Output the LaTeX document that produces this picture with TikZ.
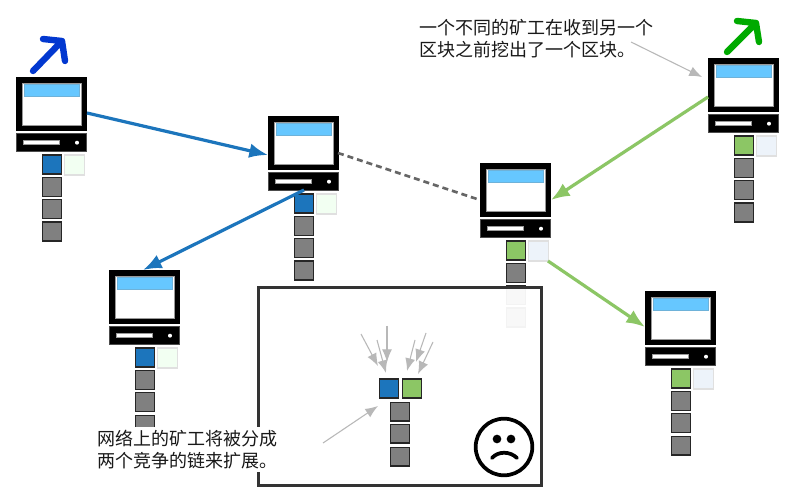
\documentclass[tikz,border=0pt]{standalone}
\usepackage{fontspec}
\setmainfont{Noto Sans CJK SC}
\usetikzlibrary{arrows.meta,calc}
\definecolor{chainblue}{HTML}{1C75BC}
\definecolor{chaingreen}{HTML}{8CC665}
\definecolor{screenblue}{HTML}{66C7FF}
\definecolor{pickblue}{HTML}{0238D0}
\definecolor{pickgreen}{HTML}{00AA00}
\definecolor{blockgrey}{HTML}{808080}
\definecolor{noteline}{HTML}{B8B8B8}
\tikzset{
  monitor/.style={draw=black,fill=black,line width=0pt,minimum width=52.6pt,minimum height=40pt,inner sep=0pt,outer sep=0pt,anchor=north west},
  base/.style={fill=black,draw=black!70,line width=.3pt,minimum width=52.6pt,minimum height=13.5pt,inner sep=0pt,anchor=north west},
  screen/.style={fill=white,draw=black!40,line width=.4pt,minimum width=44.5pt,minimum height=31pt,inner sep=0pt,anchor=north west},
  bar/.style={fill=screenblue,draw=screenblue!70!gray,line width=.3pt,minimum width=41.5pt,minimum height=9pt,inner sep=0pt,anchor=north west},
  slot/.style={fill=white,draw=black!40,line width=.3pt,minimum width=27pt,minimum height=3pt,inner sep=0pt,anchor=west},
  lamp/.style={circle,fill=white,minimum size=3pt,inner sep=0pt},
  blockbox/.style={draw=black!85,line width=1.1pt,minimum size=14.2pt,inner sep=0pt,anchor=north west},
  ghost/.style={draw=black!12,line width=.8pt,minimum size=15pt,inner sep=0pt,anchor=north west},
  link/.style={line width=2.4pt,-{Latex[length=14pt,width=11pt]}},
  note/.style={draw=noteline,line width=.8pt,-{Latex[length=9.5pt,width=7.5pt]}},
  pick/.style={line width=4.8pt,line cap=round,line join=round},
  label/.style={align=left,font=\fontsize{13.5pt}{17pt}\selectfont,inner sep=2pt,anchor=north west,text=black!90}
}
\newcommand{\computer}[6]{% name, x, y, main colour, ghost colour
  \node[monitor] (#1) at ($(#2,#3)+(0,0.6)$) {};
  \node[screen] (#1s) at ($(#2,#3)+(5.5,6.2)$) {};
  \node[bar] (#1b) at ($(#2,#3)+(8,7)$) {};
  \node[base] (#1f) at ($(#2,#3)+(0,56.5)$) {};
  \node[slot] (#1w) at ($(#1f.west)+(7,0)$) {};
  \node[lamp] (#1l) at ($(#1f.west)+(61,0)$) {};
  \node[blockbox,fill=#4] (#1n) at ($(#2,#3)+(25.7,77.5)$) {};
  \node[ghost,fill=#5] (#1g) at ($(#2,#3)+(47.5,77.5)$) {};
  \node[blockbox,fill=blockgrey] (#1p) at ($(#2,#3)+(25.7,99.7)$) {};
  \node[blockbox,fill=blockgrey] (#1q) at ($(#2,#3)+(25.7,122)$) {};
  \node[blockbox,fill=blockgrey] (#1r) at ($(#2,#3)+(25.7,144.5)$) {};
}
\begin{document}
\begin{tikzpicture}[x=0.75pt,y=-0.75pt]
\useasboundingbox[fill=white] (0,0) rectangle (800,495);
\computer{ca}{16}{77}{chainblue}{green!5!white}{}
\computer{cb}{268}{116}{chainblue}{green!5!white}{}
\computer{cc}{480}{163}{chaingreen}{blue!6!chainblue!8!white}{}
\computer{cd}{708}{58}{chaingreen}{blue!6!chainblue!8!white}{}
\computer{ce}{109}{270}{chainblue}{green!5!white}{}
\computer{cf}{645}{291}{chaingreen}{blue!6!chainblue!8!white}{}
% connector ends
\coordinate (a1) at (87,113); \coordinate (b1) at (268,155);
\coordinate (b2) at (304,190); \coordinate (e1) at (143,270);
\coordinate (b3) at (338,153); \coordinate (c3) at (480,200);
\coordinate (d1) at (708,97); \coordinate (c1) at (551,200);
\coordinate (c2) at (548,261); \coordinate (f1) at (645,327);
\draw[link,draw=chainblue] (a1) -- (b1);
\draw[link,draw=chainblue] (b2) -- (e1);
\draw[draw=black!60,line width=2pt,dash pattern=on 4.5pt off 3pt] (b3) -- (c3);
\draw[link,draw=chaingreen] (d1) -- (c1);
\draw[link,draw=chaingreen] (c2) -- (f1);
% pickaxe marks
\coordinate (pa) at (33,71); \coordinate (pb) at (62,41);
\draw[pick,draw=pickblue] (pa) -- (pb) (43,39) -- (pb) -- (65,61);
\coordinate (qa) at (727,52); \coordinate (qb) at (756,23);
\draw[pick,draw=pickgreen] (qa) -- (qb) (737,21) -- (qb) -- (759,42);
% frame
\node[draw=black!80,line width=2.2pt,fill=white,fill opacity=.95,anchor=north west,minimum width=212pt,minimum height=148pt,inner sep=0pt] (frame) at (257.3,286.3) {};
\node[blockbox,fill=chainblue] (fb) at (378.7,378.5) {};
\node[blockbox,fill=chaingreen] (fg) at (401.7,378.5) {};
\node[blockbox,fill=blockgrey] (f1b) at (389.7,401.5) {};
\node[blockbox,fill=blockgrey] (f2b) at (389.7,423.5) {};
\node[blockbox,fill=blockgrey] (f3b) at (389.7,446.5) {};
\coordinate (s1) at (361,334); \coordinate (t1) at (378,366);
\coordinate (s2) at (377,340); \coordinate (t2) at (386,373);
\coordinate (s3) at (387,326); \coordinate (t3) at (387,362);
\coordinate (s4) at (415,340); \coordinate (t4) at (407,371);
\coordinate (s5) at (426,333); \coordinate (t5) at (416,362);
\coordinate (s6) at (433,342); \coordinate (t6) at (418,374);
\foreach \n in {1,...,6} \draw[note] (s\n) -- (t\n);
% face
\node[circle,draw=black,line width=2.8pt,fill=white,minimum size=42.5pt,inner sep=0pt] (face) at (504,447) {};
\node[circle,fill=black,minimum size=6.5pt,inner sep=0pt] (eyea) at (497,439) {};
\node[circle,fill=black,minimum size=6.5pt,inner sep=0pt] (eyeb) at (511,439) {};
\coordinate (ma) at (492,458); \coordinate (mb) at (517,458);
\draw[line width=2.8pt,line cap=round] (ma) .. controls (498,451) and (510,451) .. (mb);
% texts
\node[label,fill=white] (tb) at (95,427) {网络上的矿工将被分成\\两个竞争的链来扩展。};
\node[label] (ta) at (417,16) {一个不同的矿工在收到另一个\\区块之前挖出了一个区块。};
\coordinate (n1) at (323,443); \coordinate (n2) at (378,406);
\draw[note] (n1) -- (n2);
\coordinate (n3) at (631,42); \coordinate (n4) at (702,77);
\draw[note] (n3) -- (n4);
\end{tikzpicture}
\end{document}
